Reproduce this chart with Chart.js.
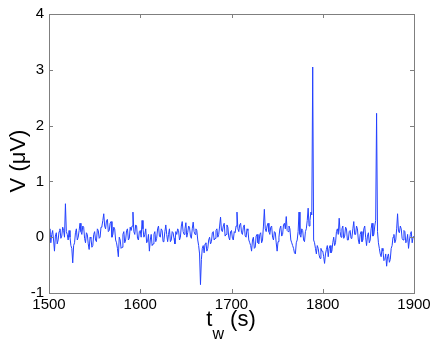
<!DOCTYPE html>
<html>
<head>
<meta charset="utf-8">
<script src="https://cdn.jsdelivr.net/npm/chart.js@4/dist/chart.umd.min.js"></script>
<style>
  html, body { margin: 0; padding: 0; background: #fff; }
  #wrap { width: 436px; height: 348px; }
</style>
</head>
<body>
<div id="wrap"><canvas id="myChart"></canvas></div>
<script>
// sampling of the trace (s)
const tStart = 1500;
const tStep = 1;

// V (uV), every 1 s from 1500 to 1900
const voltaje = [
  0.05, 0.15, -0.1, 0.05, 0.12, -0.05, -0.25, 0.02, 0.08, -0.12,
  -0.05, 0.1, 0.15, -0.02, 0.02, 0.18, 0.12, 0.0, 0.6, 0.1,
  0.05, -0.05, 0.12, 0.0, -0.15, -0.2, -0.46, -0.15, -0.1, 0.08,
  0.15, -0.05, 0.0, 0.12, 0.25, 0.1, 0.05, 0.2, 0.18, -0.02,
  -0.1, 0.08, 0.05, -0.12, -0.22, 0.0, -0.02, -0.18, -0.15, 0.05,
  0.1, -0.05, -0.08, 0.15, 0.12, -0.02, 0.0, 0.18, 0.2, 0.3,
  0.42, 0.2, 0.15, 0.3, 0.32, 0.1, 0.12, 0.25, 0.28, 0.0,
  0.05, 0.18, 0.15, -0.05, -0.1, -0.2, -0.35, 0.0, -0.05, -0.2,
  -0.18, 0.05, 0.1, -0.1, -0.05, 0.12, 0.15, -0.05, -0.02, 0.18,
  0.12, 0.2, 0.45, 0.1, 0.05, 0.22, 0.2, -0.02, -0.05, 0.1,
  0.12, 0.0, 0.3, 0.15, 0.0, 0.05, 0.15, -0.1, -0.08, 0.05,
  -0.25, -0.05, 0.05, -0.15, -0.12, 0.05, 0.1, -0.08, -0.02, 0.15,
  0.2, 0.02, 0.0, 0.15, 0.12, -0.08, -0.05, 0.1, 0.22, 0.05,
  -0.08, 0.05, 0.15, -0.08, -0.05, 0.1, 0.08, -0.02, -0.12, 0.1,
  0.05, 0.15, 0.12, -0.05, 0.0, 0.2, 0.28, 0.1, 0.05, 0.15,
  0.26, 0.0, 0.08, 0.2, 0.18, 0.02, -0.02, 0.15, 0.27, 0.1,
  0.05, 0.15, 0.12, -0.05, -0.15, -0.3, -0.85, -0.4, -0.2, -0.15,
  -0.28, -0.12, -0.1, -0.25, -0.2, -0.05, 0.0, -0.12, -0.08, 0.08,
  0.1, -0.05, -0.02, 0.12, 0.15, 0.0, 0.05, 0.2, 0.36, 0.12,
  0.1, 0.2, 0.25, 0.02, 0.05, 0.22, 0.18, 0.0, -0.05, 0.1,
  0.12, -0.02, -0.05, 0.1, 0.08, 0.2, 0.45, 0.15, 0.1, 0.22,
  0.25, 0.08, 0.05, 0.18, 0.22, 0.02, 0.0, 0.15, 0.12, -0.05,
  -0.1, -0.15, -0.25, -0.05, 0.0, -0.2, -0.18, 0.02, 0.05, -0.1,
  -0.12, 0.05, 0.08, -0.1, -0.05, 0.2, 0.5, 0.15, 0.1, 0.2,
  0.25, 0.1, 0.05, 0.18, 0.2, 0.0, -0.05, 0.1, 0.08, -0.1,
  -0.25, -0.08, 0.0, 0.15, 0.2, 0.02, 0.05, 0.22, 0.25, 0.15,
  0.37, 0.12, 0.1, 0.2, 0.15, -0.05, -0.1, -0.15, -0.2, -0.28,
  -0.3, -0.1, -0.05, 0.1, 0.45, 0.05, 0.0, 0.15, 0.12, -0.05,
  -0.08, 0.1, 0.15, 0.3, 0.52, 0.2, 0.3, 0.45, 0.4, 3.05,
  -0.05, -0.1, -0.2, -0.3, -0.15, -0.2, -0.32, -0.38, -0.2, -0.25,
  -0.25, -0.35, -0.47, -0.3, -0.22, -0.15, -0.35, -0.2, -0.15, -0.28,
  -0.25, -0.1, 0.0, -0.15, -0.1, 0.1, 0.15, 0.05, 0.34, 0.1,
  0.0, 0.15, 0.2, -0.02, 0.02, 0.18, 0.15, -0.05, -0.05, 0.1,
  0.12, -0.02, 0.0, 0.15, 0.28, 0.05, 0.05, 0.2, 0.15, -0.05,
  -0.12, 0.05, 0.1, -0.08, -0.05, 0.15, 0.2, 0.0, -0.15, 0.02,
  0.08, -0.1, -0.05, 0.15, 0.25, 0.02, 0.05, 0.2, 0.3, 2.22,
  0.1, -0.1, -0.2, -0.3, -0.35, -0.2, -0.25, -0.42, -0.4, -0.3,
  -0.52, -0.35, -0.3, -0.45, -0.4, -0.2, -0.15, 0.0, 0.05, -0.1,
  -0.05, 0.15, 0.42, 0.1, 0.08, 0.2, 0.15, -0.02, -0.05, 0.12,
  0.1, -0.1, -0.08, 0.05, -0.2, -0.05, 0.05, 0.1, -0.1, 0.0,
  0.02
];

const ticksX = [1500, 1600, 1700, 1800, 1900];
const ticksY = [-1, 0, 1, 2, 3, 4];

const puntos = voltaje.map((v, i) => ({ x: tStart + i * tStep, y: v }));

const gris = "#7f7f7f";
const fuente = "'Liberation Sans', Arial, sans-serif";

// caja de ejes con marcas hacia dentro + titulos de ejes
const cajaMatlab = {
  id: "cajaMatlab",
  afterDraw(chart) {
    const { ctx, chartArea: a, scales } = chart;
    ctx.save();
    ctx.strokeStyle = gris;
    ctx.lineWidth = 1;
    ctx.strokeRect(Math.round(a.left) + 0.5, Math.round(a.top) + 0.5,
      Math.round(a.right - a.left), Math.round(a.bottom - a.top));
    const largo = 4;
    ctx.beginPath();
    ticksX.forEach((t) => {
      const px = Math.round(scales.x.getPixelForValue(t)) + 0.5;
      ctx.moveTo(px, a.bottom); ctx.lineTo(px, a.bottom - largo);
      ctx.moveTo(px, a.top); ctx.lineTo(px, a.top + largo);
    });
    ticksY.forEach((v) => {
      const py = Math.round(scales.y.getPixelForValue(v)) + 0.5;
      ctx.moveTo(a.left, py); ctx.lineTo(a.left + largo, py);
      ctx.moveTo(a.right, py); ctx.lineTo(a.right - largo, py);
    });
    ctx.stroke();

    // titulo eje y
    ctx.fillStyle = "#000";
    ctx.font = "22px " + fuente;
    ctx.textAlign = "center";
    ctx.textBaseline = "middle";
    ctx.translate(19, 161);
    ctx.rotate(-Math.PI / 2);
    ctx.fillText("V (\u03bcV)", 0, 0);
    ctx.setTransform(1, 0, 0, 1, 0, 0);

    // titulo eje x con subindice
    ctx.textAlign = "left";
    ctx.textBaseline = "alphabetic";
    ctx.font = "22px " + fuente;
    const wT = ctx.measureText("t").width;
    ctx.font = "16px " + fuente;
    const wW = ctx.measureText("w").width;
    ctx.font = "22px " + fuente;
    const wS = ctx.measureText(" (s)").width;
    let x0 = 231 - (wT + wW + wS) / 2;
    ctx.fillText("t", x0, 326);
    ctx.font = "16px " + fuente;
    ctx.fillText("w", x0 + wT, 339);
    ctx.font = "22px " + fuente;
    ctx.fillText(" (s)", x0 + wT + wW, 326);
    ctx.restore();
  },
};

new Chart(document.getElementById("myChart"), {
  type: "line",
  data: {
    datasets: [
      {
        data: puntos,
        borderColor: "rgb(35, 65, 255)",
        borderWidth: 1,
        pointRadius: 0,
        tension: 0,
      },
    ],
  },
  options: {
    responsive: true,
    maintainAspectRatio: false,
    animation: false,
    layout: { padding: { left: 0, top: 13, right: 22, bottom: 0 } },
    plugins: { legend: { display: false }, tooltip: { enabled: false } },
    scales: {
      x: {
        type: "linear",
        min: 1500,
        max: 1900,
        afterBuildTicks: (s) => { s.ticks = ticksX.map((v) => ({ value: v })); },
        afterFit: (s) => { s.height = 55; },
        grid: { display: false, drawTicks: false },
        border: { display: false },
        ticks: {
          color: "#000",
          font: { family: fuente, size: 15 },
          padding: 3,
          maxRotation: 0,
          callback: (v) => String(v),
        },
      },
      y: {
        min: -1,
        max: 4,
        afterBuildTicks: (s) => { s.ticks = ticksY.map((v) => ({ value: v })); },
        afterFit: (s) => { s.width = 49; },
        grid: { display: false, drawTicks: false },
        border: { display: false },
        ticks: { color: "#000", font: { family: fuente, size: 15 }, padding: 5 },
      },
    },
  },
  plugins: [cajaMatlab],
});
</script>
</body>
</html>
